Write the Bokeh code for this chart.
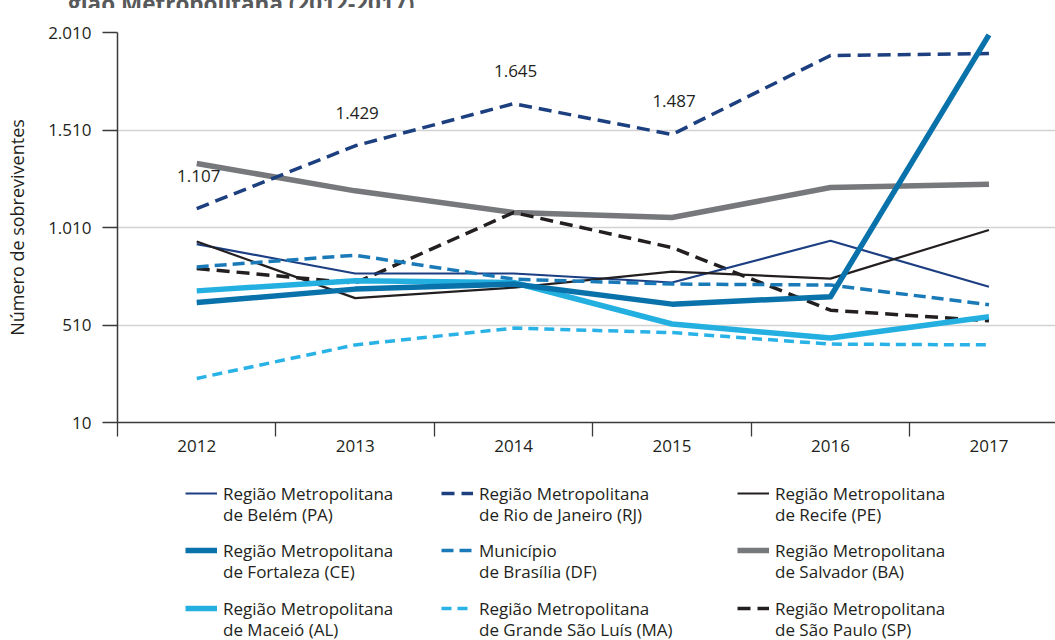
from bokeh.plotting import figure
from bokeh.layouts import column
from bokeh.models import FixedTicker, Legend, LegendItem, Range1d, ColumnDataSource, Div
from bokeh.core.properties import value
from bokeh.embed import file_html
from bokeh.resources import INLINE

years = ["2012", "2013", "2014", "2015", "2016", "2017"]
xpos = [0, 1, 2, 3, 4, 5]

belem = [925, 774, 774, 728, 942, 706]
rio = [1107, 1429, 1645, 1487, 1892, 1902]
recife = [938, 648, 702, 784, 748, 997]
fortaleza = [625, 694, 720, 617, 655, 1998]
brasilia = [808, 868, 745, 720, 715, 614]
salvador = [1338, 1198, 1087, 1061, 1215, 1232]
maceio = [685, 737, 728, 515, 443, 552]
saoluis = [236, 408, 494, 471, 412, 408]
saopaulo = [800, 725, 1087, 907, 586, 532]

y_ticks = [10, 510, 1010, 1510, 2010]
title_text = "gião Metropolitana (2012-2017)"
y_label = "Número de sobreviventes"

FONT = "Open Sans"
TXT = "#231f20"
HT = 8            # height of the (cut) title strip
H1 = 462 - HT     # chart figure
FL = 117          # frame left


def fmt(v):
    return f"{v:,}".replace(",", ".")


# ---- cut-off title strip ----
title = Div(text=('<div style="margin:-16px 0 0 68px; font-family:\'Open Sans\'; font-weight:bold; '
                  'font-size:22.5px; line-height:20px; color:#58595b; white-space:nowrap;">'
                  + title_text + '</div>'),
            width=1055, height=HT, margin=0, styles={"overflow": "hidden"})

p = figure(width=1055, height=H1, output_backend="svg", toolbar_location=None,
           x_range=Range1d(-0.5, 5.42), y_range=Range1d(10, 2010),
           min_border_left=FL, min_border_right=0, min_border_top=32 - HT,
           min_border_bottom=H1 + HT - 422)
p.outline_line_color = None
p.background_fill_color = "white"
p.border_fill_color = "white"

p.xgrid.grid_line_color = None
p.ygrid.grid_line_color = "#d2d2d2"
p.ygrid.grid_line_width = 1.3
p.ygrid.ticker = FixedTicker(ticks=y_ticks)

p.yaxis.ticker = FixedTicker(ticks=y_ticks)
p.yaxis.major_label_overrides = {t: fmt(t) for t in y_ticks}
p.yaxis.minor_tick_line_color = None
p.yaxis.major_tick_in = 0
p.yaxis.major_tick_out = 15
p.yaxis.major_label_standoff = 11
p.yaxis.axis_line_color = "#3a3a3a"
p.yaxis.axis_line_width = 1.5
p.yaxis.major_tick_line_color = "#3a3a3a"
p.yaxis.major_tick_line_width = 1.3
p.yaxis.major_label_text_font = FONT
p.yaxis.major_label_text_font_size = "17px"
p.yaxis.major_label_text_color = TXT
p.yaxis.axis_label = y_label
p.yaxis.axis_label_text_font = FONT
p.yaxis.axis_label_text_font_size = "18px"
p.yaxis.axis_label_text_font_style = "normal"
p.yaxis.axis_label_text_color = TXT
p.yaxis.axis_label_standoff = 16

p.xaxis.ticker = FixedTicker(ticks=xpos, minor_ticks=[i - 0.5 for i in xpos])
p.xaxis.major_label_overrides = {i: y for i, y in zip(xpos, years)}
p.xaxis.major_tick_in = 0
p.xaxis.major_tick_out = 0
p.xaxis.minor_tick_in = 0
p.xaxis.minor_tick_out = 14
p.xaxis.minor_tick_line_color = "#3a3a3a"
p.xaxis.minor_tick_line_width = 1.3
p.xaxis.axis_line_color = "#3a3a3a"
p.xaxis.axis_line_width = 1.5
p.xaxis.major_label_standoff = 3
p.xaxis.major_label_text_font = FONT
p.xaxis.major_label_text_font_size = "17px"
p.xaxis.major_label_text_color = TXT

series = {
    "belem": (belem, "#1c3f83", 2.2, "solid"),
    "rio": (rio, "#1c3f7f", 3.5, "13 7"),
    "recife": (recife, "#231f20", 2.2, "solid"),
    "fortaleza": (fortaleza, "#0a72aa", 5.5, "solid"),
    "brasilia": (brasilia, "#1a7ab8", 3.5, "12 6"),
    "salvador": (salvador, "#77787b", 5.5, "solid"),
    "maceio": (maceio, "#23b0e0", 5.5, "solid"),
    "saoluis": (saoluis, "#29b2e6", 3.5, "10 6"),
    "saopaulo": (saopaulo, "#231f20", 3.5, "13 7"),
}
draw_order = ["salvador", "rio", "saopaulo", "belem", "recife", "brasilia", "saoluis", "maceio", "fortaleza"]
for key in draw_order:
    vals, col, w, dash = series[key]
    p.line(xpos, vals, line_color=col, line_width=w, line_dash=dash, line_join="round")

src = ColumnDataSource(dict(x=xpos, y=rio, t=[fmt(v) for v in rio]))
p.text(x="x", y="y", text="t", source=src, text_align="center", text_baseline="middle",
       x_offset=2, y_offset=-33, text_font=value(FONT), text_font_size="17px", text_color=TXT)

# ---- legend figure (its own ranges keep the swatch renderers off-screen) ----
H2 = 640 - H1 - HT
q = figure(width=1055, height=H2, output_backend="svg", toolbar_location=None,
           x_range=Range1d(0, 1), y_range=Range1d(5000, 5001),
           min_border=0, x_axis_location=None, y_axis_location=None)
q.outline_line_color = None
q.grid.grid_line_color = None
q.border_fill_color = "white"
q.background_fill_color = "white"

labels = {
    "belem": ("Região Metropolitana", "de Belém (PA)"),
    "rio": ("Região Metropolitana", "de Rio de Janeiro (RJ)"),
    "recife": ("Região Metropolitana", "de Recife (PE)"),
    "fortaleza": ("Região Metropolitana", "de Fortaleza (CE)"),
    "brasilia": ("Município", "de Brasília (DF)"),
    "salvador": ("Região Metropolitana", "de Salvador (BA)"),
    "maceio": ("Região Metropolitana", "de Maceió (AL)"),
    "saoluis": ("Região Metropolitana", "de Grande São Luís (MA)"),
    "saopaulo": ("Região Metropolitana", "de São Paulo (SP)"),
}
legend_rows = [["belem", "rio", "recife"],
               ["fortaleza", "brasilia", "salvador"],
               ["maceio", "saoluis", "saopaulo"]]
col_x = [185, 441, 737]      # left of swatch, page px
row_y = [493, 550, 608]      # centre of first text line, page px
LS = 21                      # distance between the two label lines
LH = 23                      # rendered line height of the 17px labels


def add_legend(label, renderer, cx, cy):
    lg = Legend(items=[LegendItem(label=label, renderers=[renderer])],
                location=(cx - FL, 640 - (cy + LH / 2)), orientation="vertical",
                glyph_width=32, glyph_height=20, label_standoff=6, spacing=0,
                padding=0, margin=0, border_line_color=None, background_fill_alpha=0,
                label_text_font=FONT, label_text_font_size="17px", label_text_color=TXT)
    q.add_layout(lg, "center")


for keys, ly in zip(legend_rows, row_y):
    for k, cx in zip(keys, col_x):
        vals, col, w, dash = series[k]
        r = q.line(xpos, vals, line_color=col, line_width=w, line_dash=dash)
        r2 = q.line(xpos, vals, line_color=col, line_width=w, line_alpha=0)
        first, second = labels[k]
        add_legend(first, r, cx, ly)
        add_legend(second, r2, cx, ly + LS)

layout = column(title, p, q, spacing=0)
open("out.html", "w").write(file_html(layout, INLINE))
